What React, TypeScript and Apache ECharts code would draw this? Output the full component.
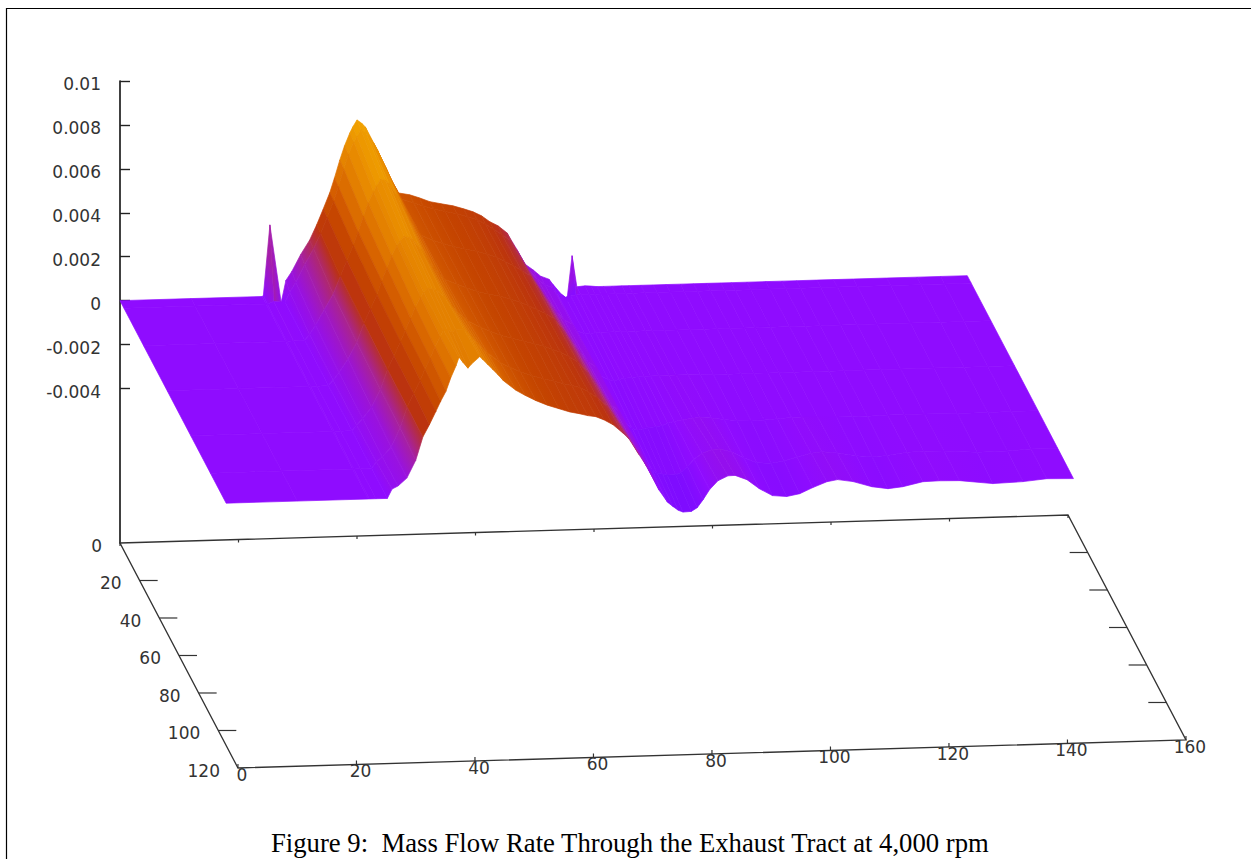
import React, { useEffect, useRef } from "react";
import * as echarts from "echarts";

const tractPositions = [0, 12, 24, 24.2, 25.3, 27.2, 28, 29, 30.5, 32, 33.2, 34.3, 35.4, 36.2, 37.1, 37.9, 38.8, 39.3, 40, 40.8, 41.4, 42.8, 43.4, 44.2, 45.1, 46, 46.8, 48.9, 50.5, 52.3, 54.2, 56.2, 58, 59.6, 61, 62.4, 63.8, 65.3, 67, 68, 69.7, 71, 72.4, 73.1, 74.5, 75.4, 76.3, 77.1, 78.5, 79.5, 80.5, 81.6, 83, 84.7, 85.9, 87.9, 90, 92.2, 94.6, 96.8, 99, 101.4, 103.2, 105.8, 109, 111.7, 114.2, 117.6, 120.4, 123.8, 129.4, 134.5, 138.5, 143];
const timeSteps = [0, 4, 24, 48, 72, 92, 108];

// mass flow (units of 0.001) per time step
const flowT0 = [0, 0, 0, 0.05, 3.25, -0.3, 0.7, 1.1, 1.86, 2.5, 3.19, 3.9, 4.63, 5.3, 6.11, 6.75, 7.33, 7.6, 7.91, 7.75, 7.58, 6.85, 6.52, 6.05, 5.5, 5.0, 4.54, 4.43, 4.28, 4.09, 3.98, 3.87, 3.72, 3.57, 3.38, 3.1, 2.9, 2.57, 1.79, 1.19, 0.85, 0.55, 0.4, 0.15, -0.3, -0.65, 1.44, 0.02, 0.05, 0.03, 0, 0, 0, 0, 0, 0, 0, 0, 0, 0, 0, 0, 0, 0, 0, 0, 0, 0, 0, 0, 0, 0, 0, 0];
const flowT4 = [0, 0, 0, 0, 0.1, 0.05, 0.5, 0.95, 1.75, 2.45, 3.15, 3.85, 4.6, 5.25, 6.05, 6.7, 7.25, 7.5, 7.8, 7.7, 7.5, 6.85, 6.5, 6.05, 5.5, 5.05, 4.6, 4.4, 4.25, 4.1, 3.97, 3.85, 3.7, 3.55, 3.35, 3.1, 2.85, 2.55, 1.8, 1.3, 0.8, 0.5, 0.35, 0.1, -0.1, -0.05, 0, 0, 0, 0, 0, 0, 0, 0, 0, 0, 0, 0, 0, 0, 0, 0, 0, 0, 0, 0, 0, 0, 0, 0, 0, 0, 0, 0];
const flowT24 = [0, 0, 0, 0, 0.02, 0.03, 0.3, 0.7, 1.4, 2.1, 2.9, 3.6, 4.3, 4.9, 5.6, 6.2, 6.7, 6.95, 7.25, 7.2, 7.05, 6.5, 6.2, 5.8, 5.35, 5.0, 4.65, 4.4, 4.25, 4.1, 3.97, 3.85, 3.7, 3.55, 3.35, 3.15, 2.9, 2.65, 2.0, 1.6, 1.0, 0.6, 0.4, 0.1, -0.05, -0.05, -0.02, 0, 0, 0, 0, 0, 0, 0, 0, 0, 0, 0, 0, 0, 0, 0, 0, 0, 0, 0, 0, 0, 0, 0, 0, 0, 0, 0];
const flowT48 = [0, 0, 0, 0, 0, 0.02, 0.25, 0.6, 1.2, 1.95, 2.8, 3.45, 4.1, 4.7, 5.3, 5.85, 6.3, 6.5, 6.7, 6.65, 6.55, 6.1, 5.85, 5.5, 5.2, 4.95, 4.7, 4.45, 4.28, 4.1, 3.97, 3.85, 3.7, 3.55, 3.38, 3.2, 3.0, 2.75, 2.2, 1.8, 1.2, 0.75, 0.5, 0.1, -0.1, -0.15, -0.1, -0.05, -0.02, 0, 0.01, 0.02, 0.03, 0.03, 0.03, 0.02, 0.01, 0, 0, 0, 0, 0, 0, 0, 0, 0, 0, 0, 0, 0, 0, 0, 0, 0];
const flowT72 = [0, 0, 0, 0, 0, 0.02, 0.25, 0.55, 1.05, 1.85, 2.75, 3.35, 4.0, 4.5, 5.05, 5.55, 6.0, 6.2, 6.4, 6.35, 6.3, 6.0, 5.8, 5.5, 5.25, 5.05, 4.85, 4.55, 4.35, 4.15, 4.0, 3.85, 3.72, 3.6, 3.45, 3.3, 3.1, 2.85, 2.35, 2.0, 1.35, 0.85, 0.5, 0.05, -0.25, -0.35, -0.3, -0.25, -0.22, -0.18, -0.08, 0, 0.06, 0.12, 0.15, 0.1, 0.02, -0.05, -0.08, -0.06, -0.02, 0.02, 0.03, 0.01, -0.02, -0.03, -0.02, 0, 0, 0, -0.02, -0.02, 0, 0];
const flowT92 = [0, 0, 0, 0, 0, 0.01, 0.3, 0.5, 0.95, 1.8, 2.75, 3.35, 3.95, 4.45, 4.95, 5.45, 5.9, 6.2, 6.2, 6.1, 6.2, 6.2, 6.05, 5.8, 5.55, 5.3, 5.1, 4.65, 4.42, 4.2, 4.02, 3.85, 3.72, 3.6, 3.5, 3.4, 3.2, 2.9, 2.5, 2.15, 1.5, 1.0, 0.55, 0, -0.45, -0.6, -0.65, -0.7, -0.7, -0.6, -0.35, -0.02, 0.25, 0.4, 0.42, 0.27, -0.02, -0.26, -0.3, -0.22, -0.05, 0.1, 0.15, 0.08, -0.07, -0.15, -0.1, 0.02, 0.04, 0.02, -0.08, -0.06, 0, -0.01];
const flowT108 = [0, 0, 0, 0, 0, 0, 0.42, 0.55, 0.9, 1.7, 2.75, 3.3, 3.9, 4.35, 4.8, 5.4, 5.95, 6.33, 6.08, 5.82, 6.0, 6.33, 6.17, 5.95, 5.7, 5.45, 5.2, 4.75, 4.5, 4.25, 4.03, 3.85, 3.69, 3.6, 3.5, 3.44, 3.28, 3.05, 2.65, 2.38, 1.65, 1.1, 0.4, 0, -0.55, -0.75, -0.93, -1.02, -1.0, -0.84, -0.48, -0.03, 0.36, 0.57, 0.58, 0.37, -0.06, -0.39, -0.45, -0.34, -0.08, 0.17, 0.25, 0.14, -0.12, -0.23, -0.16, 0.04, 0.06, 0.04, -0.14, -0.09, 0.01, -0.02];
const flowRows = [flowT0, flowT4, flowT24, flowT48, flowT72, flowT92, flowT108];

const zTicks = [0.01, 0.008, 0.006, 0.004, 0.002, 0, -0.002, -0.004];
const xTicks = [0, 20, 40, 60, 80, 100, 120, 140, 160];
const yTicks = [0, 20, 40, 60, 80, 100, 120];
const caption = "Figure 9:  Mass Flow Rate Through the Exhaust Tract at 4,000 rpm";
const palette = ["#7c0cff", "#8f0cff", "#9a12dc", "#aa2490", "#bb3210", "#c44400", "#d66000", "#e27c00", "#ea9000", "#f2a600"];
const colorMin = -1;
const colorMax = 8;
const ridgeFrom = 33.2; // columns from here to ridgeTo show as flat facets
const ridgeTo = 46.8;

const Z_MIN = -0.01103;
const Z_MAX = 0.01;
const PX_PER_Z = 21970;
// oblique view: screen shift per unit of x and y
const project = (x: number, y: number, z: number): [number, number] => [
  120 + 5.925 * x + 0.983 * y,
  z + (0.175 * x - 1.875 * y) / PX_PER_Z,
];
const projectFloor = (x: number, y: number) => project(x, y, Z_MIN);
const colorOf = (z: number) => {
  const t = Math.max(0, Math.min(1, (z - colorMin) / (colorMax - colorMin)));
  return echarts.color.lerp(t, palette) as string;
};

const quads: number[][] = [];
for (let j = 0; j < timeSteps.length - 1; j++) {
  for (let i = tractPositions.length - 2; i >= 0; i--) {
    quads.push([i, j]);
  }
}

const renderQuad = (_p: any, api: any) => {
  const i = api.value(0);
  const j = api.value(1);
  const z = (a: number, b: number) => flowRows[b][a];
  const corner = (a: number, b: number) =>
    api.coord(project(tractPositions[a], timeSteps[b], z(a, b) * 0.001));
  const p00 = corner(i, j);
  const p10 = corner(i + 1, j);
  const p11 = corner(i + 1, j + 1);
  const p01 = corner(i, j + 1);
  const zLeft = (z(i, j) + z(i, j + 1)) / 2;
  const zRight = (z(i + 1, j) + z(i + 1, j + 1)) / 2;
  let fill: any;
  const flat = tractPositions[i] >= ridgeFrom && tractPositions[i + 1] <= ridgeTo;
  if (flat || Math.abs(zLeft - zRight) < 0.02) {
    fill = colorOf((zLeft + zRight) / 2);
  } else {
    // smooth shading across the strip, iso-colour lines running along the time direction
    const ax = (p00[0] + p01[0]) / 2;
    const ay = (p00[1] + p01[1]) / 2;
    const bx = (p10[0] + p11[0]) / 2;
    const by = (p10[1] + p11[1]) / 2;
    let ex = p01[0] - p00[0];
    let ey = p01[1] - p00[1];
    const len = Math.hypot(ex, ey) || 1;
    ex /= len;
    ey /= len;
    const nx = -ey;
    const ny = ex;
    const d = (bx - ax) * nx + (by - ay) * ny;
    fill = new echarts.graphic.LinearGradient(
      ax,
      ay,
      ax + nx * d,
      ay + ny * d,
      [
        { offset: 0, color: colorOf(zLeft) },
        { offset: 1, color: colorOf(zRight) },
      ],
      true
    );
  }
  return {
    type: "polygon",
    shape: { points: [p00, p10, p11, p01] },
    style: { fill, stroke: fill, lineWidth: 0.7 },
    silent: true,
  };
};

const renderFloor = (_p: any, api: any) => {
  const pt = (x: number, y: number) => api.coord(projectFloor(x, y));
  const ink = "#333";
  const children: any[] = [];
  children.push({
    type: "polygon",
    shape: { points: [pt(0, 0), pt(160, 0), pt(160, 120), pt(0, 120)] },
    style: { fill: "none", stroke: ink, lineWidth: 1.3 },
  });
  const tick = (a: number[], dx: number, dy: number, w = 1.2) => ({
    type: "line",
    shape: { x1: a[0], y1: a[1], x2: a[0] + dx, y2: a[1] + dy },
    style: { stroke: ink, lineWidth: w, fill: "none" },
  });
  const label = (text: string, x: number, y: number, align: string) => ({
    type: "text",
    x,
    y,
    style: { text, x: 0, y: 0, fill: "#333", font: '17px "DejaVu Sans"', align, verticalAlign: "middle" },
  });
  xTicks.forEach((v) => {
    const front = pt(v, 120);
    const back = pt(v, 0);
    children.push(tick(front, 0, -4));
    children.push(tick(back, 0, 3));
    children.push(label(String(v), front[0] + 4, front[1] + 7, "center"));
  });
  yTicks.forEach((v) => {
    const left = pt(0, v);
    const right = pt(160, v);
    if (v > 0 && v < 120) {
      children.push(tick(left, 18, 0));
      children.push(tick(right, -18, 0));
    }
    children.push(label(String(v), left[0] - 18, left[1] + 3, "right"));
  });
  zTicks.forEach((v) => {
    const at = api.coord([120, v]);
    children.push(label(String(v), at[0] - 19, at[1] + 3, "right"));
  });
  return { type: "group", children, silent: true };
};

export default function App() {
  const ref = useRef<HTMLDivElement>(null);
  useEffect(() => {
    const chart = echarts.init(ref.current!, undefined, { renderer: "svg" });
    chart.setOption({
      animation: false,
      backgroundColor: "#fff",
      grid: { left: 120, right: 0, top: 81, height: 462, containLabel: false },
      xAxis: { type: "value", min: 120, max: 1251, show: false },
      yAxis: {
        type: "value",
        min: Z_MIN,
        max: Z_MAX,
        splitLine: { show: false },
        axisLine: { show: true, onZero: false, lineStyle: { color: "#111", width: 1.6 } },
        axisTick: { show: true, inside: true, length: 10, customValues: zTicks, lineStyle: { color: "#222", width: 1.4 } },
        axisLabel: { show: false },
      },
      graphic: [
        {
          type: "polyline",
          silent: true,
          shape: { points: [[6.5, 859], [6.5, 8.5], [1251, 8.5]] },
          style: { fill: "none", stroke: "#000", lineWidth: 1.2 },
        },
        {
          type: "text",
          left: 271,
          top: 829,
          silent: true,
          style: { text: caption, fill: "#000", font: '26.7px "Liberation Serif"' },
        },
      ],
      series: [
        { type: "custom", coordinateSystem: "cartesian2d", renderItem: renderFloor, data: [[0, 0]], silent: true, clip: false },
        {
          type: "custom",
          coordinateSystem: "cartesian2d",
          renderItem: renderQuad,
          data: quads,
          silent: true,
          clip: false,
        },
      ],
    });
    return () => chart.dispose();
  }, []);
  return <div ref={ref} style={{ position: "fixed", left: 0, top: 0, width: 1251, height: 859 }} />;
}
